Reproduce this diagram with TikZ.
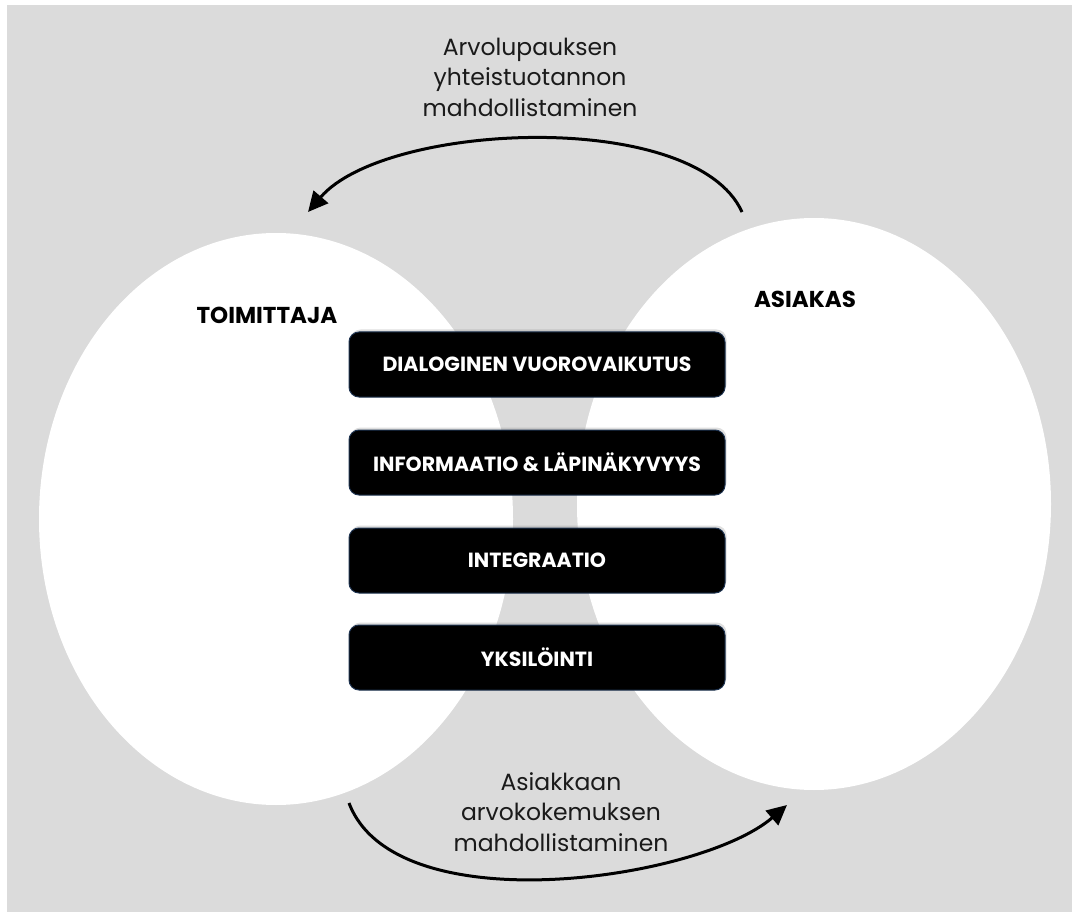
\documentclass[tikz,border=0pt]{standalone}
\usepackage{fontspec}
\setmainfont{Poppins}
\usetikzlibrary{arrows.meta,shapes.geometric,shadows}
\definecolor{bggray}{HTML}{DBDBDB}
\definecolor{boxedge}{HTML}{1E3350}
\definecolor{txt}{HTML}{1A1A1A}
\tikzset{
  blob/.style={ellipse, fill=white, draw=none, inner sep=0pt, minimum width=474pt, minimum height=572pt},
  stepbox/.style={rectangle, rounded corners=10pt, fill=black, draw=boxedge, line width=1pt,
     minimum width=376pt, minimum height=65pt, text=white,
     font=\fontsize{20.5}{24}\selectfont\bfseries,
     drop shadow={opacity=0.25, shadow xshift=1.5pt, shadow yshift=2.5pt}},
  partlabel/.style={font=\fontsize{23}{26}\selectfont\bfseries, text=black, inner sep=0pt},
  flowlabel/.style={font=\fontsize{23.5}{30.5}\selectfont, text=txt, align=center, inner sep=0pt},
  arc/.style={line width=3pt, draw=black, -{Triangle[length=20pt,width=19pt]}}
}
\begin{document}
\begin{tikzpicture}[x=1pt,y=-1pt]
\useasboundingbox (0,0) rectangle (1072,912);
\fill[white] (0,0) rectangle (1072,912);
\fill[bggray] (7,5) rectangle (1072,912);
\node[blob] (asiakasE) at (814,504) {};
\node[blob] (toimE) at (276,519) {};
\node[partlabel] (toim) at (267,315) {TOIMITTAJA};
\node[partlabel] (asiakas) at (805,299) {ASIAKAS};
\node[stepbox] (b1) at (537,364.5) {DIALOGINEN VUOROVAIKUTUS};
\node[stepbox] (b2) at (537,462.5) {INFORMAATIO \& LÄPINÄKYVYYS};
\node[stepbox] (b3) at (537,560.5) {INTEGRAATIO};
\node[stepbox] (b4) at (537,657.5) {YKSILÖINTI};
\node[flowlabel] (toplab) at (530,77) {Arvolupauksen\\yhteistuotannon\\mahdollistaminen};
\node[flowlabel] (botlab) at (561,812) {Asiakkaan\\arvokokemuksen\\mahdollistaminen};
\coordinate (topS) at (742,212);
\coordinate (topE) at (308,212);
\coordinate (botS) at (349,803);
\coordinate (botE) at (787,805);
\draw[arc] (topS) .. controls (695,108) and (385,122) .. (topE);
\draw[arc] (botS) .. controls (395,925) and (700,880) .. (botE);
\end{tikzpicture}
\end{document}
